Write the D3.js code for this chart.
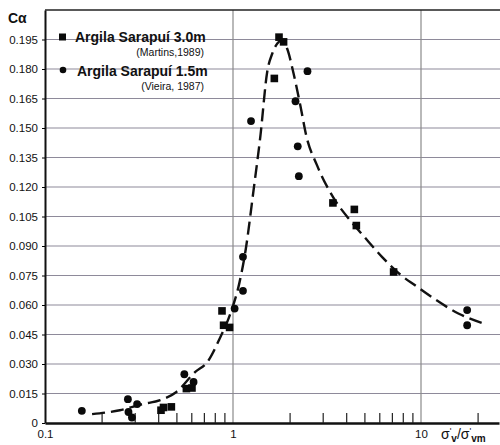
<!DOCTYPE html>
<html>
<head>
<meta charset="utf-8">
<script src="https://cdn.jsdelivr.net/npm/d3@7"></script>
<style>
body { margin: 0; background: #fff; }
svg { display: block; font-family: "Liberation Sans", Arial, sans-serif; }
</style>
</head>
<body>
<div id="chart"></div>
<script>
// Argila Sarapui 3.0m (Martins, 1989) - squares
var sqX = [1.757, 1.858, 1.659, 3.40, 4.42, 4.53, 7.15, 0.874, 0.891, 0.959, 0.427, 0.470, 0.414, 0.565, 0.605];
var sqY = [0.1962, 0.1938, 0.1752, 0.1119, 0.1086, 0.1004, 0.0768, 0.0570, 0.0497, 0.0486, 0.0079, 0.0082, 0.0065, 0.0175, 0.0178];

// Argila Sarapui 1.5m (Vieira, 1987) - circles
var ciX = [2.49, 2.15, 1.247, 2.21, 2.24, 1.13, 1.13, 1.02, 17.6, 17.6, 0.157, 0.276, 0.278, 0.309, 0.290, 0.551, 0.617];
var ciY = [0.1789, 0.1636, 0.1535, 0.1407, 0.1255, 0.0845, 0.0672, 0.0582, 0.0574, 0.0497, 0.0062, 0.0121, 0.0056, 0.0096, 0.0028, 0.0248, 0.0209];

// dashed trend line
var fitX = [0.178, 0.25, 0.33, 0.41, 0.5, 0.63, 0.73, 0.85, 0.97, 1.08, 1.16, 1.29, 1.40, 1.52, 1.62, 1.72, 1.82, 1.94, 2.1, 2.28, 2.45, 2.8, 3.4, 4.2, 5.0, 6.2, 7.75, 9.3, 11.7, 15.8, 21.5];
var fitY = [0.0045, 0.0065, 0.0096, 0.0116, 0.0158, 0.026, 0.031, 0.043, 0.0558, 0.071, 0.0863, 0.1193, 0.1463, 0.1785, 0.188, 0.193, 0.1945, 0.1904, 0.1777, 0.1616, 0.1463, 0.131, 0.115, 0.103, 0.0946, 0.0845, 0.0755, 0.070, 0.0633, 0.0557, 0.0506];

var yTicks = [0, 0.015, 0.03, 0.045, 0.06, 0.075, 0.09, 0.105, 0.12, 0.135, 0.15, 0.165, 0.18, 0.195];
var xMajor = [0.1, 1, 10];
var xMinor = [0.2, 0.3, 0.4, 0.5, 0.6, 0.7, 0.8, 0.9, 2, 3, 4, 5, 6, 7, 8, 9, 20];

var width = 500, height = 445;
var plotLeft = 45, plotTop = 10, plotBottom = 423;

var x = d3.scaleLog().domain([0.1, 26]).range([plotLeft, plotLeft + 188 * Math.log10(260)]);
var y = d3.scaleLinear().domain([0, 0.21]).range([plotBottom, plotTop]);

var svg = d3.select('#chart').append('svg')
    .attr('width', width)
    .attr('height', height);

// horizontal grid
svg.append('g').selectAll('line')
    .data(yTicks.filter(function(d) { return d > 0; }))
    .enter().append('line')
    .attr('x1', plotLeft).attr('x2', width)
    .attr('y1', function(d) { return y(d); })
    .attr('y2', function(d) { return y(d); })
    .attr('stroke', '#8e8a9a')
    .attr('stroke-width', 1.2);

// vertical grid at 1 and 10
svg.append('g').selectAll('line')
    .data([1, 10])
    .enter().append('line')
    .attr('x1', function(d) { return x(d); })
    .attr('x2', function(d) { return x(d); })
    .attr('y1', plotTop).attr('y2', plotBottom)
    .attr('stroke', '#8a8a8a')
    .attr('stroke-width', 1.2);

// top frame
svg.append('line')
    .attr('x1', plotLeft).attr('x2', width)
    .attr('y1', plotTop).attr('y2', plotTop)
    .attr('stroke', '#222').attr('stroke-width', 1.5);

// y axis
var yAxis = svg.append('g')
    .attr('transform', 'translate(' + plotLeft + ',0)')
    .call(d3.axisLeft(y).tickValues(yTicks).tickSize(3).tickSizeOuter(0)
        .tickFormat(function(d) { return d === 0 ? '0' : d3.format('.3f')(d); }));
yAxis.select('.domain').attr('stroke', '#111').attr('stroke-width', 2);
yAxis.selectAll('text').attr('font-size', 11.5).attr('fill', '#111').attr('dx', '-1');

// x axis: minor ticks pointing inward
var xMinorAxis = svg.append('g')
    .attr('transform', 'translate(0,' + plotBottom + ')')
    .call(d3.axisBottom(x).tickValues(xMinor).tickSize(-10).tickSizeOuter(0).tickFormat(''));
xMinorAxis.select('.domain').attr('stroke', '#111').attr('stroke-width', 2.5);
xMinorAxis.selectAll('.tick line').attr('stroke', '#222').attr('stroke-width', 1.2);

var xMajorAxis = svg.append('g')
    .attr('transform', 'translate(0,' + plotBottom + ')')
    .call(d3.axisBottom(x).tickValues(xMajor).tickSize(0).tickFormat(function(d) { return String(d); }));
xMajorAxis.select('.domain').remove();
xMajorAxis.selectAll('text').attr('font-size', 11.5).attr('fill', '#111').attr('dy', '1.05em');

// dashed curve
var line = d3.line()
    .x(function(d) { return x(d[0]); })
    .y(function(d) { return y(d[1]); })
    .curve(d3.curveMonotoneX);

svg.append('path')
    .datum(d3.zip(fitX, fitY))
    .attr('d', line)
    .attr('fill', 'none')
    .attr('stroke', '#111')
    .attr('stroke-width', 2.4)
    .attr('stroke-dasharray', '13,6');

// data points
svg.append('g').selectAll('rect')
    .data(d3.zip(sqX, sqY))
    .enter().append('rect')
    .attr('x', function(d) { return x(d[0]) - 3.8; })
    .attr('y', function(d) { return y(d[1]) - 3.8; })
    .attr('width', 7.6).attr('height', 7.6)
    .attr('fill', '#0a0a0a');

svg.append('g').selectAll('circle')
    .data(d3.zip(ciX, ciY))
    .enter().append('circle')
    .attr('cx', function(d) { return x(d[0]); })
    .attr('cy', function(d) { return y(d[1]); })
    .attr('r', 3.9)
    .attr('fill', '#0a0a0a');

// legend
svg.append('rect').attr('x', 59).attr('y', 33.5).attr('width', 7).attr('height', 7).attr('fill', '#0a0a0a');
svg.append('circle').attr('cx', 63).attr('cy', 70).attr('r', 3.3).attr('fill', '#0a0a0a');

svg.append('text').attr('x', 75).attr('y', 42).attr('font-size', 14).attr('font-weight', 'bold')
    .attr('fill', '#111').text('Argila Sarapuí 3.0m');
svg.append('text').attr('x', 204).attr('y', 56).attr('font-size', 10.5).attr('text-anchor', 'end')
    .attr('fill', '#111').text('(Martins,1989)');
svg.append('text').attr('x', 77).attr('y', 76).attr('font-size', 14).attr('font-weight', 'bold')
    .attr('fill', '#111').text('Argila Sarapuí 1.5m');
svg.append('text').attr('x', 204).attr('y', 90).attr('font-size', 10.5).attr('text-anchor', 'end')
    .attr('fill', '#111').text('(Vieira, 1987)');

// axis titles
svg.append('text').attr('x', 8).attr('y', 23).attr('font-size', 14).attr('font-weight', 'bold')
    .attr('fill', '#111').text('Cα');

var xt = svg.append('text').attr('x', 441).attr('y', 439).attr('font-size', 14).attr('fill', '#111');
xt.append('tspan').text('σ');
xt.append('tspan').attr('font-size', 9).attr('dy', -5).text("'");
xt.append('tspan').attr('font-size', 10).attr('dy', 8).attr('font-weight', 'bold').text('v');
xt.append('tspan').attr('dy', -3).text('/σ');
xt.append('tspan').attr('font-size', 9).attr('dy', -5).text("'");
xt.append('tspan').attr('font-size', 10).attr('dy', 8).attr('font-weight', 'bold').text('vm');
</script>
</body>
</html>
